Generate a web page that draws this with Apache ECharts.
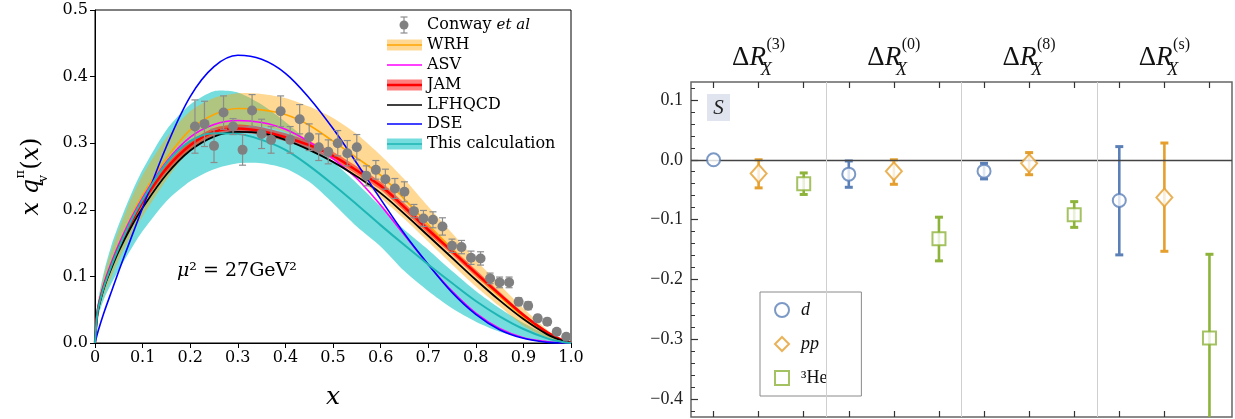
<!DOCTYPE html>
<html lang="en">
<head>
<meta charset="UTF-8">
<title>xq_v(x) and ΔR_X</title>
<style>
  html, body { margin: 0; padding: 0; background: #fff; }
  #chart { width: 1235px; height: 419px; }
</style>
</head>
<body>
<div id="chart"></div>
<script src="https://cdn.jsdelivr.net/npm/echarts@6/dist/echarts.min.js"></script>
<script>
// ---- left panel: valence distributions at mu^2 = 27 GeV^2 ----
var xs      = [0, 0.005, 0.01, 0.02, 0.035, 0.05, 0.075, 0.1, 0.15, 0.2, 0.25, 0.3, 0.35, 0.4, 0.45, 0.5, 0.55, 0.6, 0.65, 0.7, 0.75, 0.8, 0.85, 0.9, 0.95, 0.98, 1.0];
var wrh     = [0, 0.045, 0.063, 0.09, 0.12, 0.148, 0.188, 0.222, 0.277, 0.32, 0.343, 0.352, 0.35, 0.343, 0.327, 0.303, 0.278, 0.252, 0.216, 0.178, 0.141, 0.104, 0.07, 0.039, 0.014, 0.004, 0];
var wrhLo   = [0, 0.038, 0.053, 0.075, 0.1, 0.125, 0.16, 0.19, 0.245, 0.29, 0.313, 0.325, 0.325, 0.317, 0.3, 0.278, 0.25, 0.218, 0.186, 0.152, 0.118, 0.085, 0.055, 0.026, 0.008, 0.002, 0];
var wrhHi   = [0, 0.052, 0.073, 0.105, 0.14, 0.17, 0.215, 0.252, 0.308, 0.348, 0.368, 0.375, 0.374, 0.368, 0.355, 0.338, 0.314, 0.282, 0.246, 0.205, 0.165, 0.125, 0.088, 0.052, 0.02, 0.006, 0];
var asv     = [0, 0.048, 0.066, 0.092, 0.122, 0.148, 0.186, 0.218, 0.272, 0.309, 0.328, 0.334, 0.331, 0.321, 0.302, 0.277, 0.247, 0.207, 0.162, 0.118, 0.078, 0.045, 0.022, 0.008, 0.002, 0.0003, 0];
var jam     = [0, 0.045, 0.063, 0.088, 0.117, 0.143, 0.18, 0.212, 0.262, 0.297, 0.317, 0.322, 0.318, 0.309, 0.297, 0.281, 0.259, 0.236, 0.204, 0.17, 0.138, 0.105, 0.073, 0.042, 0.016, 0.005, 0];
var jamErr  = [0, 0.002, 0.003, 0.004, 0.004, 0.005, 0.005, 0.005, 0.006, 0.006, 0.006, 0.006, 0.006, 0.006, 0.006, 0.006, 0.006, 0.006, 0.006, 0.006, 0.005, 0.005, 0.004, 0.003, 0.002, 0.001, 0];
var lfhqcd  = [0, 0.043, 0.06, 0.085, 0.113, 0.138, 0.173, 0.203, 0.253, 0.289, 0.31, 0.317, 0.315, 0.305, 0.29, 0.272, 0.25, 0.225, 0.194, 0.161, 0.128, 0.095, 0.064, 0.036, 0.013, 0.004, 0];
var dse     = [0, 0.014, 0.026, 0.048, 0.078, 0.108, 0.156, 0.203, 0.295, 0.37, 0.415, 0.432, 0.426, 0.405, 0.368, 0.322, 0.27, 0.216, 0.164, 0.118, 0.076, 0.043, 0.02, 0.007, 0.001, 0.0001, 0];
var calc    = [0, 0.045, 0.062, 0.087, 0.117, 0.143, 0.182, 0.215, 0.27, 0.303, 0.315, 0.314, 0.305, 0.29, 0.266, 0.238, 0.208, 0.177, 0.147, 0.118, 0.09, 0.063, 0.04, 0.021, 0.007, 0.002, 0];
var calcLo  = [0, 0.035, 0.048, 0.068, 0.09, 0.11, 0.14, 0.168, 0.213, 0.243, 0.261, 0.27, 0.27, 0.262, 0.242, 0.21, 0.175, 0.145, 0.108, 0.078, 0.052, 0.032, 0.017, 0.008, 0.002, 0.0005, 0];
var calcHi  = [0, 0.055, 0.078, 0.11, 0.148, 0.178, 0.222, 0.26, 0.32, 0.358, 0.378, 0.376, 0.358, 0.332, 0.302, 0.272, 0.24, 0.205, 0.17, 0.14, 0.108, 0.078, 0.052, 0.03, 0.012, 0.004, 0];

// Conway et al data
var conwayX   = [0.21, 0.23, 0.25, 0.27, 0.29, 0.31, 0.33, 0.35, 0.37, 0.39, 0.41, 0.43, 0.45, 0.47, 0.49, 0.51, 0.53, 0.55, 0.57, 0.59, 0.61, 0.63, 0.65, 0.67, 0.69, 0.71, 0.73, 0.75, 0.77, 0.79, 0.81, 0.83, 0.85, 0.87, 0.89, 0.91, 0.93, 0.95, 0.97, 0.99];
var conwayY   = [0.325, 0.329, 0.296, 0.346, 0.325, 0.29, 0.349, 0.314, 0.305, 0.348, 0.305, 0.336, 0.309, 0.294, 0.287, 0.30, 0.285, 0.294, 0.251, 0.26, 0.246, 0.232, 0.227, 0.198, 0.187, 0.185, 0.175, 0.146, 0.144, 0.128, 0.127, 0.097, 0.091, 0.091, 0.062, 0.056, 0.037, 0.032, 0.017, 0.0095];
var conwayErr = [0.04, 0.034, 0.025, 0.025, 0.012, 0.023, 0.024, 0.022, 0.02, 0.023, 0.02, 0.022, 0.02, 0.02, 0.018, 0.019, 0.019, 0.019, 0.015, 0.014, 0.015, 0.015, 0.015, 0.01, 0.012, 0.012, 0.013, 0.01, 0.01, 0.01, 0.01, 0.008, 0.008, 0.008, 0.006, 0.006, 0.005, 0.005, 0.004, 0.003];

// ---- right panel: Delta R_X per target ----
var groupKeys    = ['3', '0', '8', 's'];
var groupCenters = [1, 4, 7, 10];
var groupEdges   = [2.5, 5.5, 8.5];
var slotTicks    = [0, 1, 2, 3, 4, 5, 6, 7, 8, 9, 10, 11];
var yMajor       = [-0.4, -0.3, -0.2, -0.1, 0, 0.1];
var yMinor       = [-0.42, -0.38, -0.36, -0.34, -0.32, -0.28, -0.26, -0.24, -0.22, -0.18, -0.16, -0.14, -0.12, -0.08, -0.06, -0.04, -0.02, 0.02, 0.04, 0.06, 0.08, 0.12];

var dX   = [0, 3, 6, 9];
var dVal = [0.0, -0.024, -0.019, -0.068];
var dLo  = [0.0, -0.046, -0.032, -0.159];
var dHi  = [0.0, -0.002, -0.006, 0.022];

var ppX   = [1, 4, 7, 10];
var ppVal = [-0.023, -0.019, -0.006, -0.063];
var ppLo  = [-0.047, -0.041, -0.025, -0.153];
var ppHi  = [0.0, 0.0, 0.012, 0.028];

var heX   = [2, 5, 8, 11];
var heVal = [-0.040, -0.132, -0.092, -0.298];
var heLo  = [-0.058, -0.169, -0.113, -0.45];
var heHi  = [-0.022, -0.096, -0.070, -0.158];

var SERIF = 'DejaVu Serif';
var TIMES = 'Liberation Serif';
var C_D = '#5b80b8', C_PP = '#e59f2e', C_HE = '#8db33a';

function pairs(xArr, yArr) {
    return xArr.map(function (x, i) { return [x, yArr[i]]; });
}

function band(name, lo, hi, fill, z) {
    return {
        type: 'custom', name: name, xAxisIndex: 0, yAxisIndex: 0, silent: true, z: z,
        data: [[0.5, 0.1]],
        renderItem: function (params, api) {
            var pts = [];
            for (var i = 0; i < xs.length; i++) pts.push(api.coord([xs[i], hi[i]]));
            for (var j = xs.length - 1; j >= 0; j--) pts.push(api.coord([xs[j], lo[j]]));
            return { type: 'polygon', shape: { points: pts, smooth: 0.25 }, style: { fill: fill } };
        }
    };
}

function curve(name, ys, color, width, z) {
    return {
        type: 'line', name: name, xAxisIndex: 0, yAxisIndex: 0, z: z,
        data: pairs(xs, ys), showSymbol: false, smooth: 0.35,
        lineStyle: { color: color, width: width }, silent: true
    };
}

function errBars(data, color, width, cap, capWidth, xi, yi, z) {
    return {
        type: 'custom', xAxisIndex: xi, yAxisIndex: yi, z: z, clip: true, silent: true,
        data: data,
        renderItem: function (params, api) {
            var x = api.value(0);
            if (api.value(1) === api.value(2)) return null;
            var lo = api.coord([x, api.value(1)]);
            var hi = api.coord([x, api.value(2)]);
            var st = { stroke: color, lineWidth: width };
            var cs = { stroke: color, lineWidth: capWidth };
            return {
                type: 'group', children: [
                    { type: 'line', shape: { x1: lo[0], y1: lo[1], x2: hi[0], y2: hi[1] }, style: st },
                    { type: 'line', shape: { x1: lo[0] - cap, y1: lo[1], x2: lo[0] + cap, y2: lo[1] }, style: cs },
                    { type: 'line', shape: { x1: hi[0] - cap, y1: hi[1], x2: hi[0] + cap, y2: hi[1] }, style: cs }
                ]
            };
        }
    };
}

function boundsData(xArr, lo, hi) {
    return xArr.map(function (x, i) { return [x, lo[i], hi[i]]; });
}

var jamLo = jam.map(function (v, i) { return v - jamErr[i]; });
var jamHi = jam.map(function (v, i) { return v + jamErr[i]; });
var conwayBars = conwayX.map(function (x, i) { return [x, conwayY[i] - conwayErr[i], conwayY[i] + conwayErr[i]]; });

// left-panel legend, drawn by hand so the band+line handles look right
var legItems = [
    { y: 25,  kind: 'point', text: 'Conway {it|et al}' },
    { y: 45,  kind: 'band', line: '#ffa500', fill: 'rgba(255,165,0,0.42)', text: 'WRH' },
    { y: 65,  kind: 'line', line: '#ff00ff', text: 'ASV' },
    { y: 85,  kind: 'band', line: '#ff0000', fill: 'rgba(255,0,0,0.5)', text: 'JAM', lw: 2.5 },
    { y: 105, kind: 'line', line: '#000000', text: 'LFHQCD' },
    { y: 124, kind: 'line', line: '#0000ff', text: 'DSE' },
    { y: 144, kind: 'band', line: '#1fb5b5', fill: 'rgba(64,208,208,0.72)', text: 'This calculation' }
];
var legGraphics = [];
legItems.forEach(function (it) {
    if (it.kind === 'point') {
        legGraphics.push({ type: 'line', shape: { x1: 404, y1: it.y - 8, x2: 404, y2: it.y + 8 }, style: { stroke: '#8c8c8c', lineWidth: 1.2 } });
        legGraphics.push({ type: 'line', shape: { x1: 400.5, y1: it.y - 8, x2: 407.5, y2: it.y - 8 }, style: { stroke: '#8c8c8c', lineWidth: 1.2 } });
        legGraphics.push({ type: 'line', shape: { x1: 400.5, y1: it.y + 8, x2: 407.5, y2: it.y + 8 }, style: { stroke: '#8c8c8c', lineWidth: 1.2 } });
        legGraphics.push({ type: 'circle', shape: { cx: 404, cy: it.y, r: 4.5 }, style: { fill: '#808080' } });
    } else {
        if (it.kind === 'band') {
            legGraphics.push({ type: 'rect', shape: { x: 387, y: it.y - 5.5, width: 35, height: 11 }, style: { fill: it.fill } });
        }
        legGraphics.push({ type: 'line', shape: { x1: 387, y1: it.y, x2: 422, y2: it.y }, style: { stroke: it.line, lineWidth: it.lw || 1.6 } });
    }
    legGraphics.push({
        type: 'text', x: 427, y: it.y,
        style: {
            text: it.text, fill: '#000', font: '16px "' + SERIF + '"', verticalAlign: 'middle', align: 'left',
            rich: { it: { fontFamily: SERIF, fontStyle: 'italic', fontSize: 15 } }
        }
    });
});

var chart = echarts.init(document.getElementById('chart'), null, { renderer: 'canvas' });

var rightXAxis = function (pos) {
    return {
        gridIndex: 1, type: 'value', min: -0.5, max: 11.5, position: pos,
        axisLine: { show: false, onZero: false },
        axisTick: { show: true, inside: true, length: 6, customValues: slotTicks, lineStyle: { color: '#333', width: 1.2 } },
        axisLabel: { show: false },
        splitLine: { show: false }
    };
};

var topAxis = rightXAxis('top');
topAxis.axisLabel = {
    show: true, customValues: groupCenters, margin: 3,
    formatter: function (v) {
        var k = groupKeys[groupCenters.indexOf(Math.round(v))];
        return '{n|Δ}{i|R}{sub|X}{sup|(' + k + ')}';
    },
    rich: {
        n: { fontFamily: TIMES, fontSize: 27, color: '#111', lineHeight: 42 },
        i: { fontFamily: TIMES, fontSize: 27, fontStyle: 'italic', color: '#111', lineHeight: 42 },
        sub: { fontFamily: TIMES, fontSize: 18, fontStyle: 'italic', color: '#111', lineHeight: 20, verticalAlign: 'bottom', width: 0.5 },
        sup: { fontFamily: TIMES, fontSize: 16, color: '#111', lineHeight: 22, verticalAlign: 'top' }
    }
};

var option = {
    animation: false,
    backgroundColor: '#fff',
    grid: [
        { left: 95, top: 10, width: 476, height: 333, show: true, borderColor: '#000', borderWidth: 1, backgroundColor: 'transparent' },
        { left: 691, top: 82, width: 541, height: 335, show: true, borderColor: '#666', borderWidth: 1.5, backgroundColor: 'transparent' }
    ],
    xAxis: [
        {
            gridIndex: 0, type: 'value', min: 0, max: 1, interval: 0.1,
            axisLine: { lineStyle: { color: '#000', width: 1 } },
            axisTick: { inside: false, length: 5, lineStyle: { color: '#000' } },
            axisLabel: {
                color: '#000', fontFamily: SERIF, fontSize: 16, margin: 7,
                formatter: function (v) { return v === 0 ? '0' : v.toFixed(1); }
            },
            splitLine: { show: false },
            name: 'x', nameLocation: 'middle', nameGap: 42,
            nameTextStyle: { fontFamily: SERIF, fontStyle: 'italic', fontSize: 25, color: '#000' }
        },
        rightXAxis('bottom'),
        topAxis
    ],
    yAxis: [
        {
            gridIndex: 0, type: 'value', min: 0, max: 0.5, interval: 0.1,
            axisLine: { show: true, lineStyle: { color: '#000', width: 1 } },
            axisTick: { show: true, inside: false, length: 5, lineStyle: { color: '#000' } },
            axisLabel: {
                color: '#000', fontFamily: SERIF, fontSize: 16, margin: 7,
                formatter: function (v) { return v.toFixed(1); }
            },
            splitLine: { show: false },
            name: '{i|x }{i|q}{sub|v}{sup|π}{n|(}{i|x}{n|)}',
            nameLocation: 'middle', nameRotate: 90, nameGap: 45,
            nameTextStyle: {
                rich: {
                    i: { fontFamily: SERIF, fontStyle: 'italic', fontSize: 24, color: '#000', lineHeight: 36 },
                    n: { fontFamily: SERIF, fontSize: 24, color: '#000', lineHeight: 36 },
                    sub: { fontFamily: SERIF, fontSize: 13, color: '#000', lineHeight: 16, verticalAlign: 'bottom', width: 0.5 },
                    sup: { fontFamily: SERIF, fontSize: 13, color: '#000', lineHeight: 18, verticalAlign: 'top' }
                }
            }
        },
        {
            gridIndex: 1, type: 'value', min: -0.43, max: 0.13, position: 'left',
            axisLine: { show: false, onZero: false },
            axisTick: { show: true, inside: true, length: 7, customValues: yMajor, lineStyle: { color: '#333', width: 1.2 } },
            axisLabel: {
                show: true, customValues: yMajor, color: '#222', fontFamily: TIMES, fontSize: 18, margin: 8,
                formatter: function (v) { return (v < -1e-9 ? '\u2212' : '') + Math.abs(v).toFixed(1); }
            },
            splitLine: { show: false }
        },
        {
            gridIndex: 1, type: 'value', min: -0.43, max: 0.13, position: 'left',
            axisLine: { show: false, onZero: false },
            axisTick: { show: true, inside: true, length: 4, customValues: yMinor, lineStyle: { color: '#333', width: 1 } },
            axisLabel: { show: false },
            splitLine: { show: false }
        }
    ],
    legend: [{
        left: 760, top: 292, orient: 'vertical', itemWidth: 14, itemHeight: 14, itemGap: 16,
        padding: [9, 34, 9, 14], borderColor: '#8a8a8a', borderWidth: 1, selectedMode: false,
        data: ['d', 'pp', '³He'],
        formatter: function (name) {
            return name === '³He' ? '{n|' + name + '}' : '{i|' + name + '}';
        },
        textStyle: {
            rich: {
                i: { fontFamily: TIMES, fontStyle: 'italic', fontSize: 18, color: '#111', padding: [0, 0, 0, 7] },
                n: { fontFamily: TIMES, fontSize: 18, color: '#111', padding: [0, 0, 0, 7] }
            }
        }
    }],
    graphic: legGraphics.concat([
        {
            type: 'text', x: 177, y: 271,
            style: {
                text: '{i|μ}{n|² = 27GeV²}', verticalAlign: 'middle',
                rich: {
                    i: { fontFamily: SERIF, fontStyle: 'italic', fontSize: 19, fill: '#000' },
                    n: { fontFamily: SERIF, fontSize: 19, fill: '#000' }
                }
            }
        },
        { type: 'rect', shape: { x: 707, y: 94, width: 23, height: 27 }, style: { fill: '#dfe4ee' } },
        {
            type: 'text', x: 718.5, y: 108,
            style: { text: 'S', font: 'italic 21px "' + TIMES + '"', fill: '#222', align: 'center', verticalAlign: 'middle' }
        }
    ]),
    series: [
        band('calcBand', calcLo, calcHi, 'rgba(64,208,208,0.72)', 1),
        band('wrhBand', wrhLo, wrhHi, 'rgba(255,165,0,0.42)', 1),
        curve('WRH', wrh, '#ffa500', 1.6, 2),
        curve('ASV', asv, '#ff00ff', 1.6, 2),
        band('jamBand', jamLo, jamHi, 'rgba(255,0,0,0.5)', 2),
        curve('JAM', jam, '#ff0000', 2.5, 2),
        curve('LFHQCD', lfhqcd, '#000000', 1.8, 2),
        curve('DSE', dse, '#0000ff', 1.6, 2),
        curve('This calculation', calc, '#1fb5b5', 2, 2),
        errBars(conwayBars, '#8c8c8c', 1.2, 3.5, 1.2, 0, 0, 4),
        {
            type: 'scatter', name: 'Conway et al', xAxisIndex: 0, yAxisIndex: 0, z: 5,
            data: pairs(conwayX, conwayY), symbol: 'circle', symbolSize: 10,
            itemStyle: { color: '#808080', opacity: 1 }, silent: true
        },
        // right panel
        {
            type: 'scatter', name: 'guides', xAxisIndex: 1, yAxisIndex: 1, z: 1, data: [], silent: true,
            markLine: {
                silent: true, symbol: 'none', label: { show: false },
                data: [
                    { yAxis: 0, lineStyle: { color: '#444', width: 1.3, type: 'solid' } }
                ].concat(groupEdges.map(function (e) {
                    return { xAxis: e, lineStyle: { color: '#cfcfcf', width: 1, type: 'solid' } };
                }))
            }
        },
        errBars(boundsData(dX, dLo, dHi), C_D, 2.6, 4, 3, 1, 1, 3),
        errBars(boundsData(ppX, ppLo, ppHi), C_PP, 2.6, 4, 3, 1, 1, 3),
        errBars(boundsData(heX, heLo, heHi), C_HE, 2.6, 4, 3, 1, 1, 3),
        {
            type: 'scatter', name: 'd', xAxisIndex: 1, yAxisIndex: 1, z: 5,
            data: pairs(dX, dVal), symbol: 'emptyCircle', symbolSize: 13,
            itemStyle: { color: C_D, borderWidth: 2 }, silent: true
        },
        {
            type: 'scatter', name: 'pp', xAxisIndex: 1, yAxisIndex: 1, z: 5,
            data: pairs(ppX, ppVal), symbol: 'emptyDiamond', symbolSize: [16, 18],
            itemStyle: { color: C_PP, borderWidth: 2 }, silent: true
        },
        {
            type: 'scatter', name: '³He', xAxisIndex: 1, yAxisIndex: 1, z: 5,
            data: pairs(heX, heVal), symbol: 'emptyRect', symbolSize: 13,
            itemStyle: { color: C_HE, borderWidth: 2 }, silent: true
        }
    ]
};

chart.setOption(option);
</script>
</body>
</html>
